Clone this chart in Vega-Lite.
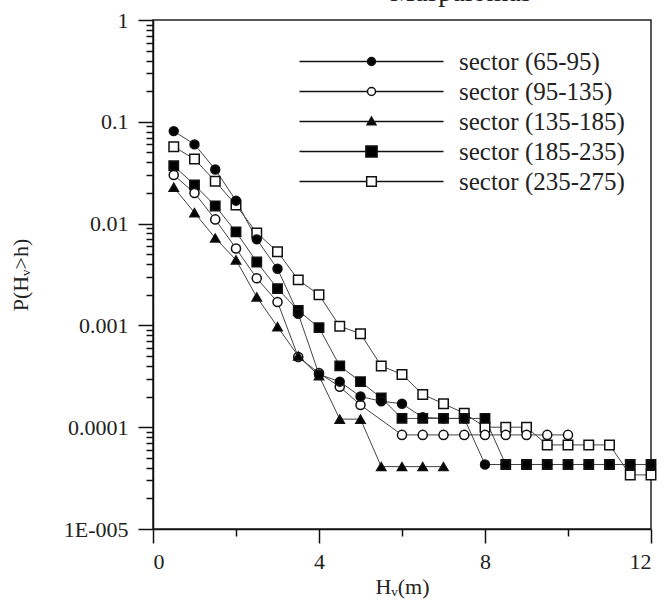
{
  "$schema": "https://vega.github.io/schema/vega-lite/v6.json",
  "autosize": {"type": "none"},
  "padding": {"left": 153, "top": 20, "right": 13, "bottom": 72},
  "width": 498,
  "height": 509,
  "background": "white",
  "title": {
    "text": "Maspalomas",
    "orient": "top",
    "anchor": "start",
    "frame": "group",
    "offset": -20,
    "dx": 237,
    "baseline": "alphabetic",
    "font": "Liberation Serif",
    "fontSize": 28,
    "fontWeight": "normal",
    "color": "#222"
  },
  "config": {
    "view": {"stroke": "#222", "strokeWidth": 1.5},
    "axis": {
      "grid": false,
      "domainColor": "#111",
      "domainWidth": 1.5,
      "tickColor": "#111",
      "tickWidth": 1.5,
      "labelFont": "Liberation Serif",
      "labelFontSize": 22,
      "labelColor": "#222",
      "titleFont": "Liberation Serif",
      "titleFontSize": 22,
      "titleFontWeight": "normal",
      "titleColor": "#222"
    },
    "legend": {
      "labelFont": "Liberation Serif",
      "labelFontSize": 25,
      "labelColor": "#222",
      "labelLimit": 400
    }
  },
  "data": {
    "values": [
      {"sector": "sector (235-275)", "h": 0.5, "p": 0.057},
      {"sector": "sector (235-275)", "h": 1.0, "p": 0.043},
      {"sector": "sector (235-275)", "h": 1.5, "p": 0.026},
      {"sector": "sector (235-275)", "h": 2.0, "p": 0.0152},
      {"sector": "sector (235-275)", "h": 2.5, "p": 0.0081},
      {"sector": "sector (235-275)", "h": 3.0, "p": 0.0053},
      {"sector": "sector (235-275)", "h": 3.5, "p": 0.0028},
      {"sector": "sector (235-275)", "h": 4.0, "p": 0.002},
      {"sector": "sector (235-275)", "h": 4.5, "p": 0.00098},
      {"sector": "sector (235-275)", "h": 5.0, "p": 0.00083},
      {"sector": "sector (235-275)", "h": 5.5, "p": 0.0004},
      {"sector": "sector (235-275)", "h": 6.0, "p": 0.00033},
      {"sector": "sector (235-275)", "h": 6.5, "p": 0.00021},
      {"sector": "sector (235-275)", "h": 7.0, "p": 0.00017},
      {"sector": "sector (235-275)", "h": 7.5, "p": 0.000137},
      {"sector": "sector (235-275)", "h": 8.0, "p": 0.0001},
      {"sector": "sector (235-275)", "h": 8.5, "p": 0.0001},
      {"sector": "sector (235-275)", "h": 9.0, "p": 0.0001},
      {"sector": "sector (235-275)", "h": 9.5, "p": 0.000067},
      {"sector": "sector (235-275)", "h": 10.0, "p": 0.000067},
      {"sector": "sector (235-275)", "h": 10.5, "p": 0.000067},
      {"sector": "sector (235-275)", "h": 11.0, "p": 0.000067},
      {"sector": "sector (235-275)", "h": 11.5, "p": 0.000034},
      {"sector": "sector (235-275)", "h": 12.0, "p": 0.000034},

      {"sector": "sector (185-235)", "h": 0.5, "p": 0.037},
      {"sector": "sector (185-235)", "h": 1.0, "p": 0.024},
      {"sector": "sector (185-235)", "h": 1.5, "p": 0.0149},
      {"sector": "sector (185-235)", "h": 2.0, "p": 0.0083},
      {"sector": "sector (185-235)", "h": 2.5, "p": 0.0042},
      {"sector": "sector (185-235)", "h": 3.0, "p": 0.0023},
      {"sector": "sector (185-235)", "h": 3.5, "p": 0.0014},
      {"sector": "sector (185-235)", "h": 4.0, "p": 0.00095},
      {"sector": "sector (185-235)", "h": 4.5, "p": 0.0004},
      {"sector": "sector (185-235)", "h": 5.0, "p": 0.00028},
      {"sector": "sector (185-235)", "h": 5.5, "p": 0.000194},
      {"sector": "sector (185-235)", "h": 6.0, "p": 0.000122},
      {"sector": "sector (185-235)", "h": 6.5, "p": 0.000122},
      {"sector": "sector (185-235)", "h": 7.0, "p": 0.000122},
      {"sector": "sector (185-235)", "h": 7.5, "p": 0.000122},
      {"sector": "sector (185-235)", "h": 8.0, "p": 0.000122},
      {"sector": "sector (185-235)", "h": 8.5, "p": 0.000043},
      {"sector": "sector (185-235)", "h": 9.0, "p": 0.000043},
      {"sector": "sector (185-235)", "h": 9.5, "p": 0.000043},
      {"sector": "sector (185-235)", "h": 10.0, "p": 0.000043},
      {"sector": "sector (185-235)", "h": 10.5, "p": 0.000043},
      {"sector": "sector (185-235)", "h": 11.0, "p": 0.000043},
      {"sector": "sector (185-235)", "h": 11.5, "p": 0.000043},
      {"sector": "sector (185-235)", "h": 12.0, "p": 0.000043},

      {"sector": "sector (95-135)", "h": 0.5, "p": 0.03},
      {"sector": "sector (95-135)", "h": 1.0, "p": 0.02},
      {"sector": "sector (95-135)", "h": 1.5, "p": 0.011},
      {"sector": "sector (95-135)", "h": 2.0, "p": 0.0057},
      {"sector": "sector (95-135)", "h": 2.5, "p": 0.0029},
      {"sector": "sector (95-135)", "h": 3.0, "p": 0.0017},
      {"sector": "sector (95-135)", "h": 3.5, "p": 0.00049},
      {"sector": "sector (95-135)", "h": 4.0, "p": 0.00034},
      {"sector": "sector (95-135)", "h": 4.5, "p": 0.00025},
      {"sector": "sector (95-135)", "h": 5.0, "p": 0.000165},
      {"sector": "sector (95-135)", "h": 6.0, "p": 0.000084},
      {"sector": "sector (95-135)", "h": 6.5, "p": 0.000084},
      {"sector": "sector (95-135)", "h": 7.0, "p": 0.000084},
      {"sector": "sector (95-135)", "h": 7.5, "p": 0.000084},
      {"sector": "sector (95-135)", "h": 8.0, "p": 0.000084},
      {"sector": "sector (95-135)", "h": 8.5, "p": 0.000084},
      {"sector": "sector (95-135)", "h": 9.0, "p": 0.000084},
      {"sector": "sector (95-135)", "h": 9.5, "p": 0.000084},
      {"sector": "sector (95-135)", "h": 10.0, "p": 0.000084},

      {"sector": "sector (135-185)", "h": 0.5, "p": 0.0227},
      {"sector": "sector (135-185)", "h": 1.0, "p": 0.0128},
      {"sector": "sector (135-185)", "h": 1.5, "p": 0.0072},
      {"sector": "sector (135-185)", "h": 2.0, "p": 0.0044},
      {"sector": "sector (135-185)", "h": 2.5, "p": 0.0019},
      {"sector": "sector (135-185)", "h": 3.0, "p": 0.00097},
      {"sector": "sector (135-185)", "h": 3.5, "p": 0.0005},
      {"sector": "sector (135-185)", "h": 4.0, "p": 0.00032},
      {"sector": "sector (135-185)", "h": 4.5, "p": 0.00012},
      {"sector": "sector (135-185)", "h": 5.0, "p": 0.00012},
      {"sector": "sector (135-185)", "h": 5.5, "p": 0.000041},
      {"sector": "sector (135-185)", "h": 6.0, "p": 0.000041},
      {"sector": "sector (135-185)", "h": 6.5, "p": 0.000041},
      {"sector": "sector (135-185)", "h": 7.0, "p": 0.000041},

      {"sector": "sector (65-95)", "h": 0.5, "p": 0.081},
      {"sector": "sector (65-95)", "h": 1.0, "p": 0.06},
      {"sector": "sector (65-95)", "h": 1.5, "p": 0.034},
      {"sector": "sector (65-95)", "h": 2.0, "p": 0.0168},
      {"sector": "sector (65-95)", "h": 2.5, "p": 0.007},
      {"sector": "sector (65-95)", "h": 3.0, "p": 0.0036},
      {"sector": "sector (65-95)", "h": 3.5, "p": 0.0013},
      {"sector": "sector (65-95)", "h": 4.0, "p": 0.00033},
      {"sector": "sector (65-95)", "h": 4.5, "p": 0.00028},
      {"sector": "sector (65-95)", "h": 5.0, "p": 0.0002},
      {"sector": "sector (65-95)", "h": 5.5, "p": 0.00018},
      {"sector": "sector (65-95)", "h": 6.0, "p": 0.00017},
      {"sector": "sector (65-95)", "h": 6.5, "p": 0.000125},
      {"sector": "sector (65-95)", "h": 7.0, "p": 0.000122},
      {"sector": "sector (65-95)", "h": 7.5, "p": 0.000122},
      {"sector": "sector (65-95)", "h": 8.0, "p": 0.000043},
      {"sector": "sector (65-95)", "h": 8.5, "p": 0.000043},
      {"sector": "sector (65-95)", "h": 9.0, "p": 0.000043},
      {"sector": "sector (65-95)", "h": 9.5, "p": 0.000043},
      {"sector": "sector (65-95)", "h": 10.0, "p": 0.000043},
      {"sector": "sector (65-95)", "h": 10.5, "p": 0.000043},
      {"sector": "sector (65-95)", "h": 11.0, "p": 0.000043},
      {"sector": "sector (65-95)", "h": 11.5, "p": 0.000043},
      {"sector": "sector (65-95)", "h": 12.0, "p": 0.000043}
    ]
  },
  "resolve": {
    "axis": {"x": "independent", "y": "independent"},
    "scale": {"shape": "independent", "fill": "independent"}
  },
  "layer": [
    {
      "mark": {"type": "line", "stroke": "#444", "strokeWidth": 1},
      "encoding": {
        "x": {
          "field": "h", "type": "quantitative",
          "scale": {"domain": [0, 12], "nice": false},
          "axis": {"orient": "bottom", "values": [0, 4, 8, 12], "tickSize": 14, "labelPadding": 8, "title": "Hᵥ(m)", "titlePadding": 4}
        },
        "y": {
          "field": "p", "type": "quantitative",
          "scale": {"type": "log", "domain": [0.00001, 1], "nice": false},
          "axis": {
            "orient": "left",
            "values": [1, 0.1, 0.01, 0.001, 0.0001, 0.00001],
            "labelExpr": "datum.value < 0.00005 ? '1E-005' : format(datum.value, '~g')",
            "tickSize": 15, "labelPadding": 10,
            "title": "P(Hᵥ>h)", "titlePadding": 31
          }
        },
        "detail": {"field": "sector", "type": "nominal"}
      }
    },
    {
      "mark": {"type": "point", "filled": true, "stroke": "#111", "strokeWidth": 1.5, "opacity": 1},
      "encoding": {
        "x": {
          "field": "h", "type": "quantitative",
          "axis": {"orient": "bottom", "values": [2, 6, 10], "tickSize": 7, "labels": false, "domain": false, "title": null}
        },
        "y": {
          "field": "p", "type": "quantitative",
          "axis": {
            "orient": "left",
            "values": [0.9, 0.8, 0.7, 0.6, 0.5, 0.4, 0.3, 0.2,
                       0.09, 0.08, 0.07, 0.06, 0.05, 0.04, 0.03, 0.02,
                       0.009, 0.008, 0.007, 0.006, 0.005, 0.004, 0.003, 0.002,
                       0.0009, 0.0008, 0.0007, 0.0006, 0.0005, 0.0004, 0.0003, 0.0002,
                       0.00009, 0.00008, 0.00007, 0.00006, 0.00005, 0.00004, 0.00003, 0.00002],
            "tickSize": 7, "labels": false, "domain": false, "title": null
          }
        },
        "shape": {
          "field": "sector", "type": "nominal",
          "scale": {
            "domain": ["sector (65-95)", "sector (95-135)", "sector (135-185)", "sector (185-235)", "sector (235-275)"],
            "range": ["circle", "circle", "triangle-up", "square", "square"]
          },
          "legend": null
        },
        "fill": {
          "field": "sector", "type": "nominal",
          "scale": {
            "domain": ["sector (65-95)", "sector (95-135)", "sector (135-185)", "sector (185-235)", "sector (235-275)"],
            "range": ["black", "white", "black", "black", "white"]
          },
          "legend": null
        },
        "size": {
          "field": "sector", "type": "nominal",
          "scale": {
            "domain": ["sector (65-95)", "sector (95-135)", "sector (135-185)", "sector (185-235)", "sector (235-275)"],
            "range": [80, 90, 80, 150, 120]
          },
          "legend": null
        }
      }
    },
    {
      "transform": [{"filter": "datum.h > 100"}],
      "mark": {"type": "point", "filled": true, "stroke": "#111", "strokeWidth": 1.5, "opacity": 1},
      "encoding": {
        "x": {"field": "h", "type": "quantitative", "axis": null},
        "y": {"field": "p", "type": "quantitative", "axis": null},
        "shape": {
          "field": "sector", "type": "nominal",
          "scale": {
            "domain": ["sector (65-95)", "sector (95-135)", "sector (135-185)", "sector (185-235)", "sector (235-275)"],
            "range": [
              "M-18,0H-1M1,0H18M1,0A1,1,0,1,1,-1,0A1,1,0,1,1,1,0Z",
              "M-18,0H-1M1,0H18M1,0A1,1,0,1,1,-1,0A1,1,0,1,1,1,0Z",
              "M-18,0H18M0,-1.1L1.1,0.8L-1.1,0.8Z",
              "M-18,0H-1.4M1.4,0H18M-1.4,-1.4H1.4V1.4H-1.4Z",
              "M-18,0H-1.2M1.2,0H18M-1.2,-1.2H1.2V1.2H-1.2Z"
            ]
          },
          "legend": {
            "title": null,
            "orient": "none",
            "legendX": 206,
            "legendY": 29,
            "padding": 0,
            "symbolSize": 64,
            "symbolStrokeWidth": 1.5,
            "labelOffset": 75,
            "rowPadding": 4
          }
        },
        "fill": {
          "field": "sector", "type": "nominal",
          "scale": {
            "domain": ["sector (65-95)", "sector (95-135)", "sector (135-185)", "sector (185-235)", "sector (235-275)"],
            "range": ["black", "white", "black", "black", "white"]
          },
          "legend": {
            "title": null,
            "orient": "none",
            "legendX": 206,
            "legendY": 29,
            "padding": 0,
            "symbolSize": 64,
            "symbolStrokeWidth": 1.5,
            "labelOffset": 75,
            "rowPadding": 4
          }
        }
      }
    }
  ]
}
